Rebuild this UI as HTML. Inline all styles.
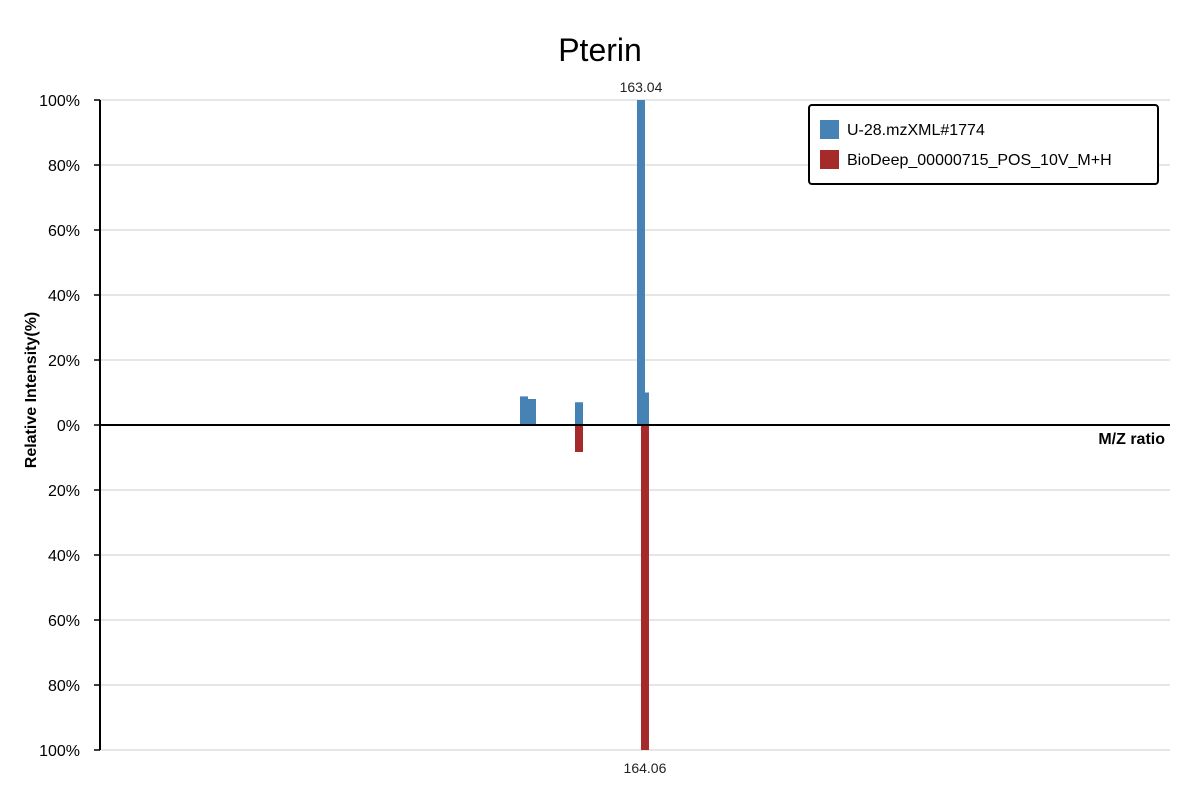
<!DOCTYPE html>
<html><head><meta charset="utf-8"><style>
body{margin:0;background:#fff;font-family:"Liberation Sans","DejaVu Sans",sans-serif;}
svg{display:block}
</style></head><body>
<svg id="chart" width="1200" height="800"></svg>
<script>
const queryMz=[133.2,135.24,147.23,163.04,164.06];
const queryIntensity=[8.8,8.0,7.0,100,10];
const refMz=[147.23,164.06];
const refIntensity=[8.3,100];
const yTicks=[100,80,60,40,20,0,20,40,60,80,100];
const yTickVals=[100,80,60,40,20,0,-20,-40,-60,-80,-100];
const topLabel="163.04", bottomLabel="164.06";
const seriesNames=["U-28.mzXML#1774","BioDeep_00000715_POS_10V_M+H"];

const NS="http://www.w3.org/2000/svg";
const svg=document.getElementById('chart');
const L=100,R=1170,T=100,B=750,Z=425;
const mzMin=25.03,mzMax=298.0;
const xS=m=>L+(m-mzMin)/(mzMax-mzMin)*(R-L);
const yS=v=>Z-v*(Z-T)/100;
function el(t,a,txt){const e=document.createElementNS(NS,t);for(const k in a)e.setAttribute(k,a[k]);if(txt!=null)e.textContent=txt;svg.appendChild(e);return e;}

yTickVals.forEach((v,i)=>{
  const y=yS(v);
  if(v!==0){const g=el('line',{x1:L,x2:R,y1:y,y2:y,stroke:'#ddd','stroke-width':1.5});
  
  }
  const tk=el('line',{x1:L-6,x2:L,y1:y,y2:y,stroke:'#000','stroke-width':1.5});
  
  
  const t=el('text',{x:L-20,y:y+6,'text-anchor':'end','font-size':16,fill:'#000'},yTicks[i]+'%');
  
  
});
queryMz.forEach((m,i)=>{
  const x=xS(m)-4,y=yS(queryIntensity[i]);
  const r=el('rect',{x:x,y:y,width:8,height:Z-y,fill:'#4682b4'});
  
  
});
refMz.forEach((m,i)=>{
  const x=xS(m)-4,y=yS(-refIntensity[i]);
  const r=el('rect',{x:x,y:Z,width:8,height:y-Z,fill:'#a52a2a'});
  
  
});
const ya=el('line',{x1:L,x2:L,y1:T,y2:B,stroke:'#000','stroke-width':2});


const xa=el('line',{x1:L,x2:R,y1:Z,y2:Z,stroke:'#000','stroke-width':2});


const ti=el('text',{x:600,y:61,'text-anchor':'middle','font-size':32,fill:'#000'},'Pterin');


const xt=el('text',{x:1165,y:444,'text-anchor':'end','font-size':16,'font-weight':'bold',fill:'#000'},'M/Z ratio');


const yt=el('text',{x:0,y:0,'text-anchor':'middle','font-size':16,'font-weight':'bold',fill:'#000',transform:'translate(36,390) rotate(-90)'},'Relative Intensity(%)');


const tl=el('text',{x:xS(queryMz[3]),y:92,'text-anchor':'middle','font-size':14,fill:'#222'},topLabel);


const bl=el('text',{x:xS(refMz[1]),y:773,'text-anchor':'middle','font-size':14,fill:'#222'},bottomLabel);


const lg=el('rect',{x:809,y:105,width:349,height:79,rx:3,fill:'#fff',stroke:'#000','stroke-width':2});


['#4682b4','#a52a2a'].forEach((c,i)=>{
  const s=el('rect',{x:820,y:120+i*30,width:19,height:19,fill:c});
  
  
  const t=el('text',{x:847,y:135+i*30,'font-size':16,fill:'#000'},seriesNames[i]);
  
  
});
</script>
</body></html>
